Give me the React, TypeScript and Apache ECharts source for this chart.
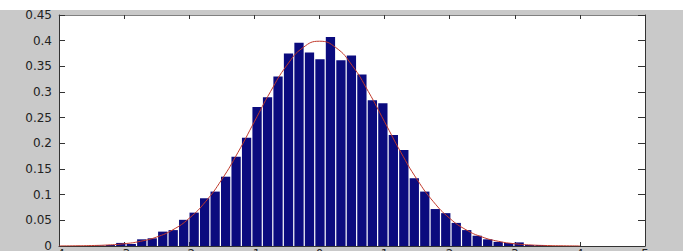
import React, { useEffect, useRef } from "react";
import * as echarts from "echarts";

// Histogram bins (regular bins; first centre and width), heights
const binFirstCenter = -3.373;
const binWidth = 0.161;
const binHeights = [
  0.001, 0.002, 0.006, 0.004, 0.013, 0.015, 0.028, 0.031, 0.051, 0.065,
  0.093, 0.106, 0.135, 0.174, 0.211, 0.271, 0.29, 0.33, 0.375, 0.396,
  0.377, 0.364, 0.407, 0.362, 0.371, 0.334, 0.284, 0.278, 0.216, 0.187,
  0.132, 0.106, 0.072, 0.064, 0.045, 0.031, 0.02, 0.013, 0.008, 0.006,
  0.007, 0.002, 0.002,
];

// Fitted curve
const curveX = [
  -4, -3.75, -3.5, -3.25, -3, -2.75, -2.5, -2.25, -2, -1.75, -1.5, -1.25, -1,
  -0.75, -0.5, -0.25, 0, 0.25, 0.5, 0.75, 1, 1.25, 1.5, 1.75, 2, 2.25, 2.5,
  2.75, 3, 3.25, 3.5, 3.75, 4,
];
const curveY = [
  0.0001, 0.0004, 0.0009, 0.002, 0.0044, 0.0091, 0.0175, 0.0317, 0.054, 0.0863,
  0.1295, 0.1826, 0.242, 0.3011, 0.3521, 0.3867, 0.3989, 0.3867, 0.3521, 0.3011,
  0.242, 0.1826, 0.1295, 0.0863, 0.054, 0.0317, 0.0175, 0.0091, 0.0044, 0.002,
  0.0009, 0.0004, 0.0001,
];

// Axis ticks
const xMin = -4;
const xMax = 5;
const xStep = 1;
const yMin = 0;
const yMax = 0.45;
const yStep = 0.05;

const H = 270;

export default function App() {
  const ref = useRef<HTMLDivElement>(null);
  useEffect(() => {
    if (!ref.current) return;
    const chart = echarts.init(ref.current, undefined, { renderer: "svg" });
    const binData = binHeights.map((h, i) => [binFirstCenter + i * binWidth, h]);
    const curveData = curveX.map((x, i) => [x, curveY[i]]);
    const labelFont = {
      fontSize: 12,
      color: "#222",
      fontFamily: "DejaVu Sans",
    };
    const tickStyle = { color: "#333", width: 1 };
    chart.setOption({
      animation: false,
      backgroundColor: "#c9c9c9",
      graphic: [
        {
          type: "rect",
          left: 0,
          top: 0,
          shape: { width: 683, height: 10 },
          style: { fill: "#ffffff" },
          z: -10,
        },
      ],
      grid: {
        left: 59,
        right: 38,
        top: 15,
        bottom: H - 246,
        show: true,
        backgroundColor: "#ffffff",
        borderWidth: 0,
      },
      xAxis: [
        {
          type: "value",
          position: "bottom",
          min: xMin,
          max: xMax,
          interval: xStep,
          axisLine: { show: true, onZero: false, lineStyle: { color: "#333" } },
          axisTick: { show: true, inside: true, length: 4, lineStyle: tickStyle },
          axisLabel: { ...labelFont, margin: 2 },
          splitLine: { show: false },
        },
        {
          type: "value",
          position: "top",
          min: xMin,
          max: xMax,
          interval: xStep,
          axisLine: { show: true, onZero: false, lineStyle: { color: "#808080" } },
          axisTick: { show: true, inside: true, length: 4, lineStyle: tickStyle },
          axisLabel: { show: false },
          splitLine: { show: false },
        },
      ],
      yAxis: [
        {
          type: "value",
          position: "left",
          min: yMin,
          max: yMax,
          interval: yStep,
          axisLine: { show: true, onZero: false, lineStyle: { color: "#333" } },
          axisTick: { show: true, inside: true, length: 6, lineStyle: tickStyle },
          axisLabel: {
            ...labelFont,
            margin: 7,
            formatter: (v: number) => String(Math.round(v * 100) / 100),
          },
          splitLine: { show: false },
        },
        {
          type: "value",
          position: "right",
          min: yMin,
          max: yMax,
          interval: yStep,
          axisLine: { show: true, onZero: false, lineStyle: { color: "#333" } },
          axisTick: { show: true, inside: true, length: 7, lineStyle: tickStyle },
          axisLabel: { show: false },
          splitLine: { show: false },
        },
      ],
      series: [
        {
          type: "custom",
          xAxisIndex: 0,
          yAxisIndex: 0,
          encode: { x: 0, y: 1 },
          data: binData,
          renderItem: (params: any, api: any) => {
            const c = api.value(0);
            const h = api.value(1);
            const p0 = api.coord([c - binWidth / 2, h]);
            const p1 = api.coord([c + binWidth / 2, 0]);
            return {
              type: "rect",
              shape: {
                x: p0[0] + 0.6,
                y: p0[1],
                width: p1[0] - p0[0] - 1.2,
                height: p1[1] - p0[1],
              },
              style: { fill: "#0b0b7e", stroke: null },
            };
          },
          z: 2,
        },
        {
          type: "line",
          xAxisIndex: 0,
          yAxisIndex: 0,
          data: curveData,
          smooth: true,
          showSymbol: false,
          lineStyle: { color: "#c0392b", width: 1 },
          z: 3,
        },
      ],
    });
    return () => chart.dispose();
  }, []);
  return (
    <div
      style={{
        position: "absolute",
        left: 0,
        top: 0,
        width: 683,
        height: 251,
        overflow: "hidden",
      }}
    >
      <div ref={ref} style={{ width: 683, height: H }} />
    </div>
  );
}
